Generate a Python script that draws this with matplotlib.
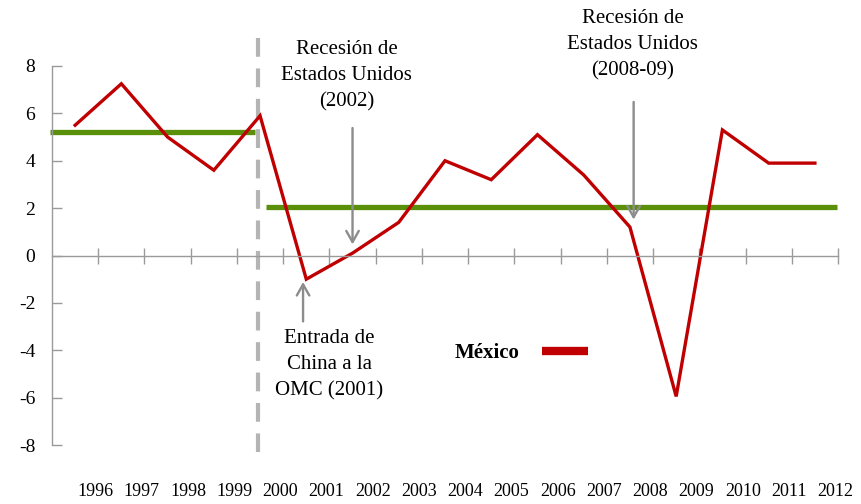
import matplotlib
matplotlib.use("Agg")
import matplotlib.pyplot as plt
import numpy as np

plt.rcParams['font.family'] = ['Liberation Serif', 'DejaVu Serif']

# datos: crecimiento del PIB de México (%)
anios = ['1996', '1997', '1998', '1999', '2000', '2001', '2002', '2003', '2004',
         '2005', '2006', '2007', '2008', '2009', '2010', '2011', '2012']
mexico = [5.5, 7.25, 5.0, 3.6, 5.9, -1.0, 0.1, 1.4, 4.0,
          3.2, 5.1, 3.4, 1.2, -5.95, 5.3, 3.9, 3.9]
# promedios por periodo (línea verde)
prom_antes = 5.2
prom_despues = 2.05
y_ticks = [-8, -6, -4, -2, 0, 2, 4, 6, 8]

rojo = '#c00000'
verde = '#5a8f0a'
gris = '#8c8c8c'

x = np.arange(len(anios))

fig = plt.figure(figsize=(8.62, 5.04), dpi=100)
ax = fig.add_axes([52 / 862, 59 / 504, 786 / 862, 379 / 504])
ax.set_xlim(-0.5, 16.5)
ax.set_ylim(-8, 8)

# ejes
for s in ['top', 'right']:
    ax.spines[s].set_visible(False)
ax.spines['bottom'].set_position(('data', 0))
ax.spines['bottom'].set_color('#9a9a9a')
ax.spines['left'].set_color('#9a9a9a')
ax.spines['bottom'].set_linewidth(1.0)
ax.spines['left'].set_linewidth(1.0)
ax.set_yticks(y_ticks)
ax.set_yticklabels([str(v) for v in y_ticks], fontsize=14)
ax.tick_params(axis='y', direction='in', length=7, width=1, color='#9a9a9a', pad=12)
ax.set_xticks(x + 0.5)
ax.set_xticklabels([])
ax.tick_params(axis='x', direction='inout', length=11, width=1, color='#9a9a9a')

# etiquetas de años abajo
for i, a in enumerate(anios):
    ax.text(i + 0.44, -9.95, a, ha='center', va='center', fontsize=13, clip_on=False)

# promedios
ax.plot([-0.55, 3.9], [prom_antes, prom_antes], color=verde, lw=3.8, solid_capstyle='butt', clip_on=False)
ax.plot([4.12, 16.47], [prom_despues, prom_despues], color=verde, lw=3.8, solid_capstyle='butt', clip_on=False)

# línea vertical punteada (2000)
ax.plot([3.96, 3.96], [9.2, -8.3], color='#b4b4b4', lw=3, dashes=(4.5, 2.8), clip_on=False)

# serie
ax.plot(x, mexico, color=rojo, lw=2.4, solid_joinstyle='miter', label='México')

# anotaciones
flecha = dict(arrowstyle='->,head_length=0.8,head_width=0.45', color=gris, lw=1.7)
ax.annotate('', xy=(6.0, 0.35), xytext=(6.0, 5.5), arrowprops=flecha)
ax.text(5.87, 7.6, 'Recesión de\nEstados Unidos\n(2002)', ha='center', va='center',
        fontsize=15, linespacing=1.5)
ax.annotate('', xy=(12.08, 1.4), xytext=(12.08, 6.6), arrowprops=flecha)
ax.text(12.06, 8.9, 'Recesión de\nEstados Unidos\n(2008-09)', ha='center', va='center',
        fontsize=15, linespacing=1.5, clip_on=False)
ax.annotate('', xy=(4.93, -1.0), xytext=(4.93, -2.9), arrowprops=flecha)
ax.text(5.5, -4.6, 'Entrada de\nChina a la\nOMC (2001)', ha='center', va='center',
        fontsize=15, linespacing=1.5)

# leyenda
leg = ax.legend(loc='center left', bbox_to_anchor=(455 / 862, 1 - 353 / 504),
                bbox_transform=fig.transFigure, frameon=False, markerfirst=False,
                prop={'weight': 'bold', 'size': 15}, handlelength=2.2,
                handletextpad=1.05, borderpad=0, borderaxespad=0)
for h in leg.get_lines():
    h.set_linewidth(6)
    h.set_solid_capstyle('butt')

fig.savefig('out.png', dpi=100)
